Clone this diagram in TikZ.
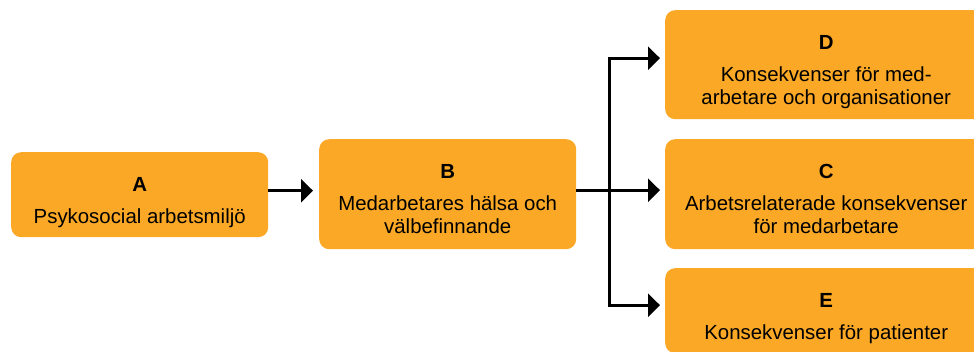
\documentclass[tikz,border=0pt]{standalone}
\usepackage{fontspec}
\setmainfont{Liberation Sans}
\usetikzlibrary{arrows.meta}
\definecolor{boxorange}{RGB}{250,168,38}
\begin{document}
\begin{tikzpicture}[x=1pt,y=-1pt,
  box/.style={draw=none, fill=boxorange, rounded corners=10pt, inner sep=0pt, anchor=north west},
  txt/.style={font=\fontsize{20.4}{23}\selectfont, align=center, inner sep=0pt, anchor=north},
  arr/.style={line width=3pt, -{Triangle[length=12pt,width=23pt]}},
  ]
\clip (0,0) rectangle (974,351);

% boxes
\node[box, minimum width=257pt, minimum height=85pt]  (A) at (11,152) {};
\node[box, minimum width=257pt, minimum height=110pt] (B) at (319,139) {};
\node[box, minimum width=322pt, minimum height=109pt] (D) at (665,10) {};
\node[box, minimum width=322pt, minimum height=110pt] (C) at (665,139) {};
\node[box, minimum width=322pt, minimum height=85pt]  (E) at (665,268) {};

% texts
\node[txt] (At) at ([yshift=-25.4pt]A.north) {\textbf{A}\\[9pt]Psykosocial arbetsmiljö};
\node[txt] (Bt) at ([yshift=-25.4pt]B.north) {\textbf{B}\\[9pt]Medarbetares hälsa och\\välbefinnande};
\node[txt] (Dt) at ([yshift=-25.4pt]D.north) {\textbf{D}\\[9pt]Konsekvenser för med-\\arbetare och organisationer};
\node[txt] (Ct) at ([yshift=-25.4pt]C.north) {\textbf{C}\\[9pt]Arbetsrelaterade konsekvenser\\för medarbetare};
\node[txt] (Et) at ([yshift=-25.4pt]E.north) {\textbf{E}\\[9pt]Konsekvenser för patienter};

% connectors
\draw[arr, shorten >=6pt] ([yshift=4pt]A.east) -- ([yshift=4pt]A.east -| B.west);
\draw[arr, shorten >=5pt] ([yshift=4pt]B.east) -- ([yshift=4pt]B.east -| C.west);
\coordinate (J) at (609,190);
\draw[arr, shorten >=5pt] (J) |- ([yshift=6.5pt]D.west);
\draw[arr, shorten >=5pt] (J) |- ([yshift=5.5pt]E.west);
\end{tikzpicture}
\end{document}
